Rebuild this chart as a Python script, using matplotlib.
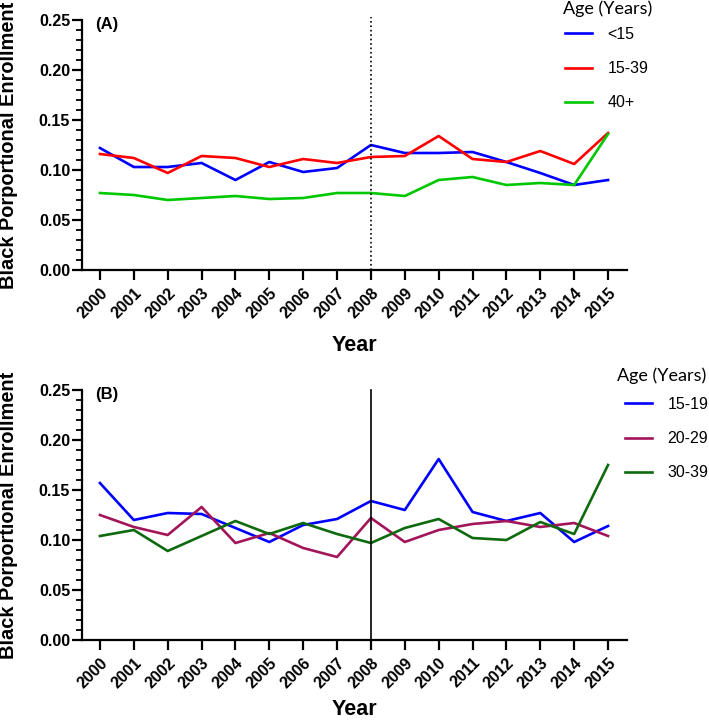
import numpy as np
import matplotlib
matplotlib.use('Agg')
import matplotlib.pyplot as plt
from matplotlib.ticker import MultipleLocator
from matplotlib import rcParams

rcParams['font.family'] = 'Liberation Sans'
rcParams['axes.linewidth'] = 1.6

years = list(range(2000, 2016))

# panel A
under15 = [0.122, 0.103, 0.103, 0.107, 0.090, 0.108, 0.098, 0.102,
           0.125, 0.117, 0.117, 0.118, 0.108, 0.097, 0.085, 0.090]
age15_39 = [0.116, 0.112, 0.097, 0.114, 0.112, 0.103, 0.111, 0.107,
            0.113, 0.114, 0.134, 0.111, 0.108, 0.119, 0.106, 0.137]
age40plus = [0.077, 0.075, 0.070, 0.072, 0.074, 0.071, 0.072, 0.077,
             0.077, 0.074, 0.090, 0.093, 0.085, 0.087, 0.085, 0.136]

# panel B
age15_19 = [0.157, 0.120, 0.127, 0.126, 0.112, 0.098, 0.115, 0.121,
            0.139, 0.130, 0.181, 0.128, 0.119, 0.127, 0.098, 0.114]
age20_29 = [0.125, 0.113, 0.105, 0.133, 0.097, 0.107, 0.092, 0.083,
            0.122, 0.098, 0.110, 0.116, 0.119, 0.113, 0.117, 0.104]
age30_39 = [0.104, 0.110, 0.089, 0.104, 0.119, 0.106, 0.117, 0.106,
            0.097, 0.112, 0.121, 0.102, 0.100, 0.118, 0.106, 0.175]

labels_a = ['<15', '15-39', '40+']
labels_b = ['15-19', '20-29', '30-39']
colors_a = ['#0000ff', '#ff0000', '#00c800']
colors_b = ['#0000ff', '#a3155a', '#0e6a0e']
split_year = 2008
yticks = [0.00, 0.05, 0.10, 0.15, 0.20, 0.25]

W, H = 709, 721
fig = plt.figure(figsize=(W/100, H/100), dpi=100)
ax1 = fig.add_axes([82/W, 1-270/H, 545/W, 250/H])
ax2 = fig.add_axes([82/W, 1-640/H, 545/W, 250/H])


def style(ax, tag, series, labels, colors, vline_style, vtop, xlab_y,
          title_xy, leg_xy):
    for s, lab, c in zip(series, labels, colors):
        ax.plot(years, s, color=c, lw=1.9, label=lab)
    ax.axvline(split_year, color='k', lw=1.2, linestyle=vline_style,
               ymin=0, ymax=vtop, clip_on=False)
    ax.set_xlim(1999.47, 2015.56)
    ax.set_ylim(0, 0.25)
    ax.yaxis.set_minor_locator(MultipleLocator(0.01))
    ax.set_yticks(yticks)
    ax.set_yticklabels(['%.2f' % v for v in yticks],
                       fontweight='bold', fontsize=11.5)
    ax.set_xticks(years)
    ax.set_xticklabels([str(y) for y in years], rotation=45, ha='right',
                       va='top', rotation_mode='anchor', fontweight='bold',
                       fontsize=11.5)
    ax.tick_params(axis='both', which='major', length=7, width=1.6,
                   direction='out')
    ax.tick_params(axis='y', which='minor', length=4.5, width=1.3)
    ax.tick_params(axis='y', which='major', pad=1.5)
    ax.tick_params(axis='x', which='major', pad=4)
    for sp in ['top', 'right']:
        ax.spines[sp].set_visible(False)
    ax.set_xlabel('Year', fontweight='bold', fontsize=15.5)
    ax.xaxis.set_label_coords(0.5, xlab_y)
    ax.set_ylabel('Black Porportional Enrollment', fontweight='bold',
                  fontsize=14.4)
    ax.yaxis.set_label_coords(-0.118, 0.5)
    ax.text(0.024, 1.012, tag, transform=ax.transAxes, fontweight='bold',
            fontsize=12, va='top', ha='left')
    fig.text(title_xy[0]/W, 1-title_xy[1]/H, 'Age (Years)', family='Lato',
             fontsize=13, ha='left', va='center')
    ax.legend(loc='upper left', bbox_to_anchor=(leg_xy[0]/W, 1-leg_xy[1]/H),
              bbox_transform=fig.transFigure, frameon=False, fontsize=11.5,
              handlelength=1.7, handletextpad=0.95, labelspacing=1.2,
              borderpad=0, borderaxespad=0)


style(ax1, '(A)', [under15, age15_39, age40plus], labels_a, colors_a,
      ':', 1.012, -0.258, (563, 9), (565, 27))
style(ax2, '(B)', [age15_19, age20_29, age30_39], labels_b, colors_b,
      '-', 1.0, -0.236, (617, 376), (625, 397))

fig.savefig('out.png', dpi=100)
